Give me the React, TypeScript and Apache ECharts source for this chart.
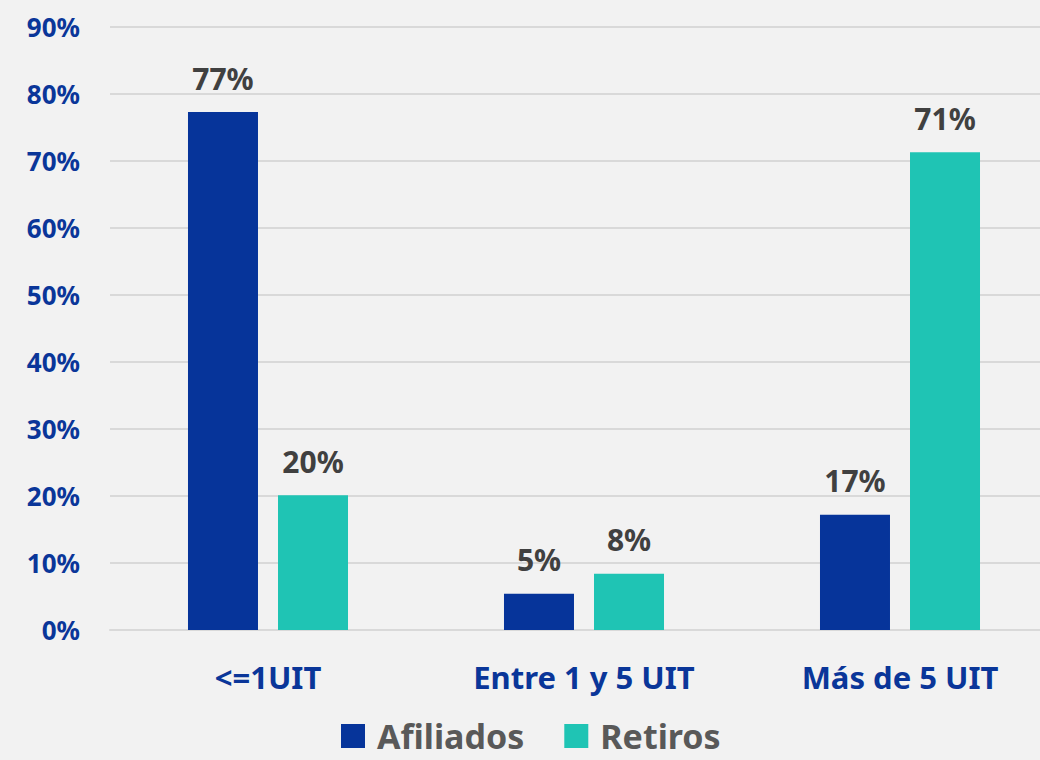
import React, { useEffect, useRef } from "react";
import * as echarts from "echarts";

const categories = ["<=1UIT", "Entre 1 y 5 UIT", "Más de 5 UIT"];
const afiliados = [77.3, 5.4, 17.2];
const retiros = [20.1, 8.4, 71.3];
const seriesNames = ["Afiliados", "Retiros"];

const FONT = "'Noto Sans', sans-serif";

export default function App() {
  const ref = useRef<HTMLDivElement>(null);
  useEffect(() => {
    if (!ref.current) return;
    const chart = echarts.init(ref.current, undefined, { renderer: "svg" });
    const label = {
      show: true,
      position: "top",
      distance: 19,
      formatter: (p: any) => Math.round(p.value) + "%",
      color: "#404040",
      fontSize: 30,
      fontWeight: "bold",
      fontFamily: FONT,
    };
    chart.setOption({
      animation: false,
      backgroundColor: "#f2f2f2",
      grid: { left: 110, right: 0, top: 27, bottom: 130 },
      legend: {
        data: seriesNames,
        top: 714,
        left: 336,
        itemWidth: 24,
        itemHeight: 24,
        itemGap: 40,
        icon: "rect",
        textStyle: {
          color: "#595959",
          fontSize: 34,
          lineHeight: 30,
          fontWeight: "bold",
          fontFamily: FONT,
          padding: [0, 0, 0, 7],
        },
      },
      xAxis: {
        type: "category",
        data: categories,
        axisLine: { lineStyle: { color: "#d9d9d9", width: 2 } },
        axisTick: { show: false },
        axisLabel: { color: "#0a3699", fontSize: 31, fontWeight: "bold", fontFamily: FONT, margin: 31 },
      },
      yAxis: {
        type: "value",
        min: 0,
        max: 90,
        interval: 10,
        axisLine: { show: false },
        axisTick: { show: false },
        splitLine: { lineStyle: { color: "#d9d9d9", width: 2 } },
        axisLabel: {
          formatter: "{value}%",
          color: "#0a3699",
          fontSize: 26,
          fontWeight: "bold",
          fontFamily: FONT,
          margin: 30,
        },
      },
      series: [
        {
          name: seriesNames[0],
          type: "bar",
          data: afiliados,
          barWidth: 70,
          barGap: "28.6%",
          itemStyle: { color: "#06349a" },
          label,
        },
        {
          name: seriesNames[1],
          type: "bar",
          data: retiros,
          barWidth: 70,
          itemStyle: { color: "#1fc4b4" },
          label,
        },
      ],
    });
    return () => chart.dispose();
  }, []);
  return <div ref={ref} style={{ position: "fixed", left: 0, top: 0, width: 1058, height: 760 }} />;
}
